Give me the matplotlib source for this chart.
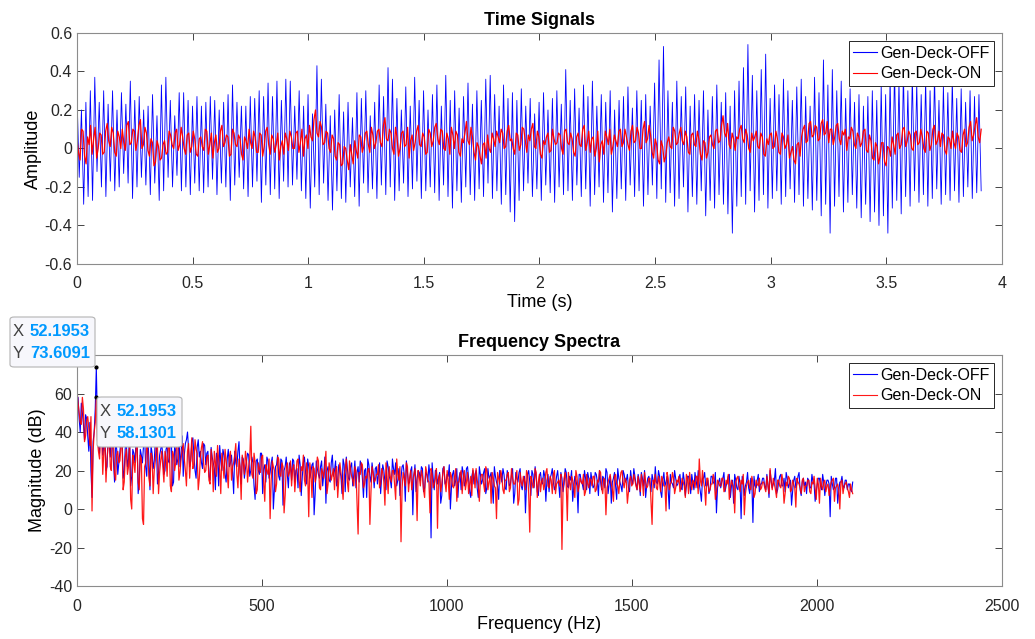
import numpy as np
import matplotlib
matplotlib.use('Agg')
import matplotlib.pyplot as plt
from matplotlib.patches import FancyBboxPatch
from matplotlib.ticker import FuncFormatter

plt.rcParams['font.family'] = ['Liberation Sans', 'DejaVu Sans']
plt.rcParams['axes.unicode_minus'] = False

# time signals
t_end = 3.91
# blue (Gen-Deck-OFF): one peak and one trough per cycle (~52 Hz)
off_peaks = [
    0.28, 0.20, 0.24, 0.30, 0.37, 0.24, 0.30, 0.23, 0.30, 0.20,
    0.29, 0.23, 0.35, 0.25, 0.27, 0.20, 0.22, 0.28, 0.17, 0.33,
    0.37, 0.25, 0.17, 0.29, 0.29, 0.25, 0.22, 0.27, 0.22, 0.24,
    0.27, 0.25, 0.20, 0.24, 0.28, 0.33, 0.24, 0.22, 0.22, 0.27,
    0.26, 0.30, 0.27, 0.34, 0.27, 0.35, 0.25, 0.36, 0.35, 0.22,
    0.30, 0.22, 0.28, 0.18, 0.43, 0.36, 0.23, 0.17, 0.20, 0.28,
    0.19, 0.24, 0.16, 0.29, 0.26, 0.30, 0.17, 0.24, 0.33, 0.27,
    0.42, 0.36, 0.26, 0.20, 0.32, 0.22, 0.37, 0.25, 0.30, 0.20,
    0.28, 0.33, 0.22, 0.38, 0.25, 0.30, 0.21, 0.27, 0.34, 0.23,
    0.30, 0.25, 0.36, 0.38, 0.28, 0.22, 0.33, 0.26, 0.29, 0.25,
    0.31, 0.22, 0.26, 0.18, 0.24, 0.29, 0.20, 0.26, 0.30, 0.23,
    0.41, 0.25, 0.31, 0.21, 0.33, 0.27, 0.35, 0.22, 0.28, 0.24,
    0.30, 0.20, 0.25, 0.27, 0.32, 0.21, 0.30, 0.25, 0.28, 0.22,
    0.34, 0.46, 0.53, 0.30, 0.24, 0.35, 0.27, 0.32, 0.22, 0.28,
    0.25, 0.30, 0.20, 0.27, 0.33, 0.24, 0.29, 0.22, 0.30, 0.35,
    0.42, 0.54, 0.38, 0.30, 0.41, 0.49, 0.26, 0.33, 0.28, 0.36,
    0.30, 0.25, 0.32, 0.36, 0.27, 0.22, 0.37, 0.29, 0.46, 0.33,
    0.41, 0.30, 0.35, 0.26, 0.31, 0.24, 0.28, 0.22, 0.27, 0.30,
    0.25, 0.33, 0.28, 0.37, 0.42, 0.35, 0.40, 0.30, 0.38, 0.34,
    0.28, 0.36, 0.30, 0.38, 0.25, 0.33, 0.29, 0.36, 0.26, 0.31,
    0.24, 0.30, 0.27, 0.28]
off_troughs = [
    -0.15, -0.29, -0.25, -0.27, -0.12, -0.20, -0.25, -0.17, -0.22, -0.20,
    -0.13, -0.18, -0.26, -0.20, -0.15, -0.19, -0.24, -0.18, -0.27, -0.22,
    -0.15, -0.20, -0.14, -0.22, -0.20, -0.24, -0.18, -0.22, -0.23, -0.20,
    -0.16, -0.24, -0.18, -0.20, -0.27, -0.19, -0.15, -0.21, -0.25, -0.20,
    -0.17, -0.28, -0.19, -0.24, -0.21, -0.26, -0.17, -0.20, -0.19, -0.16,
    -0.22, -0.26, -0.31, -0.20, -0.24, -0.18, -0.27, -0.32, -0.22, -0.26,
    -0.28, -0.20, -0.25, -0.30, -0.18, -0.23, -0.21, -0.26, -0.19, -0.24,
    -0.20, -0.27, -0.22, -0.18, -0.25, -0.21, -0.17, -0.26, -0.22, -0.20,
    -0.23, -0.27, -0.19, -0.25, -0.31, -0.22, -0.28, -0.20, -0.24, -0.27,
    -0.21, -0.25, -0.18, -0.26, -0.22, -0.29, -0.24, -0.33, -0.38, -0.27,
    -0.22, -0.18, -0.25, -0.21, -0.27, -0.19, -0.23, -0.28, -0.20, -0.24,
    -0.22, -0.27, -0.19, -0.25, -0.21, -0.30, -0.24, -0.20, -0.28, -0.23,
    -0.33, -0.26, -0.21, -0.27, -0.19, -0.25, -0.22, -0.30, -0.24, -0.19,
    -0.26, -0.21, -0.28, -0.23, -0.30, -0.26, -0.20, -0.33, -0.25, -0.29,
    -0.22, -0.35, -0.27, -0.31, -0.24, -0.29, -0.34, -0.44, -0.30, -0.25,
    -0.29, -0.22, -0.33, -0.27, -0.24, -0.31, -0.26, -0.22, -0.29, -0.25,
    -0.21, -0.28, -0.24, -0.30, -0.26, -0.32, -0.27, -0.35, -0.29, -0.44,
    -0.30, -0.25, -0.33, -0.28, -0.24, -0.31, -0.36, -0.29, -0.38, -0.33,
    -0.40, -0.35, -0.44, -0.31, -0.27, -0.34, -0.25, -0.30, -0.22, -0.28,
    -0.24, -0.30, -0.26, -0.21, -0.29, -0.24, -0.27, -0.22, -0.28, -0.25,
    -0.20, -0.26, -0.23, -0.22]
# red (Gen-Deck-ON), even and odd samples
on_even = [
    0.05, -0.06, 0.09, -0.08, 0.02, -0.03, 0.11, 0.00, 0.07, -0.02, 0.13, 0.01, 0.08, -0.04, 0.06, 0.10, -0.01, 0.14, 0.03, 0.09,
    0.04, 0.15, 0.02, 0.08, -0.04, 0.03, -0.07, 0.01, -0.05, 0.04, -0.02, 0.07, 0.00, 0.10, 0.02, 0.06, -0.03, 0.08, 0.01, 0.05,
    -0.04, 0.06, -0.01, 0.09, 0.02, -0.05, 0.07, 0.00, 0.12, 0.03, 0.06, -0.03, 0.08, 0.01, 0.05, -0.06, 0.04, 0.10, 0.00, 0.06,
    -0.02, 0.07, 0.01, 0.11, -0.03, 0.05, 0.02, -0.06, 0.04, 0.08, -0.01, 0.06, 0.00, 0.09, 0.03, -0.04, 0.07, 0.12, 0.04, 0.20,
    0.06, 0.11, 0.03, 0.08, -0.02, 0.05, -0.06, 0.02, -0.08, 0.00, -0.11, -0.03, 0.04, -0.05, 0.06, 0.01, 0.09, -0.02, 0.07, 0.03,
    0.10, 0.01, 0.16, 0.04, 0.08, -0.03, 0.06, 0.00, 0.09, 0.02, -0.05, 0.07, 0.03, 0.12, 0.01, 0.06, -0.02, 0.08, 0.04, 0.13,
    0.02, 0.09, -0.01, 0.05, 0.11, 0.00, 0.07, -0.04, 0.03, 0.14, 0.02, 0.06, -0.06, 0.01, -0.08, 0.03, 0.07, -0.02, 0.05, 0.09,
    0.03, 0.08, 0.01, 0.12, 0.05, -0.03, 0.07, 0.02, 0.10, -0.02, 0.04, 0.13, 0.00, 0.06, -0.05, 0.02, 0.08, -0.01, 0.05, 0.03,
    0.07, -0.03, 0.10, 0.02, 0.05, -0.04, 0.08, 0.01, 0.12, 0.03, -0.02, 0.06, 0.00, -0.07, 0.04, 0.09, 0.02, -0.03, 0.07, 0.01,
    0.10, 0.03, 0.06, -0.01, 0.12, 0.04, 0.08, 0.00, 0.14, 0.05, 0.07, -0.05, 0.02, -0.08, 0.01, -0.04, 0.06, 0.00, 0.09, 0.03,
    0.11, 0.02, 0.06, -0.03, 0.08, 0.01, 0.05, -0.06, 0.03, -0.02, 0.07, 0.00, 0.10, 0.04, 0.17, 0.06, 0.02, 0.08, -0.01, 0.05,
    0.12, 0.03, 0.07, -0.02, 0.04, 0.09, 0.00, 0.06, -0.04, 0.02, 0.08, 0.01, 0.05, -0.03, 0.06, 0.02, -0.05, 0.01, -0.08, 0.03,
    0.06, 0.12, 0.04, 0.14, 0.07, 0.11, 0.05, 0.15, 0.08, 0.03, 0.10, 0.06, 0.13, 0.02, 0.07, -0.01, 0.05, 0.09, 0.00, 0.06,
    0.03, 0.10, -0.02, 0.04, -0.06, 0.01, -0.04, 0.03, -0.09, 0.00, 0.06, -0.03, 0.08, 0.02, 0.11, 0.04, 0.07, -0.01, 0.09, 0.03,
    0.06, -0.02, 0.08, 0.02, 0.12, 0.04, 0.01, 0.07, -0.03, 0.05, 0.09, 0.00, 0.06, -0.02, 0.10, 0.03, 0.14, 0.07, 0.16, 0.03]
on_odd = [
    -0.02, 0.10, -0.04, 0.06, 0.12, 0.05, -0.05, 0.08, -0.03, 0.09, 0.04, 0.11, -0.02, 0.09, 0.00, 0.03, 0.12, 0.02, 0.10, -0.01,
    0.12, 0.00, 0.11, -0.01, 0.05, -0.09, 0.04, -0.06, 0.02, -0.03, 0.09, 0.02, 0.08, -0.01, 0.11, 0.00, 0.07, -0.02, 0.09, -0.03,
    0.05, 0.01, 0.10, -0.03, 0.08, 0.03, -0.02, 0.09, 0.01, 0.07, -0.04, 0.10, 0.02, 0.07, -0.03, 0.06, 0.00, 0.03, 0.09, -0.02,
    0.08, -0.04, 0.09, 0.02, 0.07, -0.02, 0.08, 0.01, -0.03, 0.05, 0.09, 0.00, 0.08, -0.02, 0.10, 0.05, 0.00, 0.06, 0.15, 0.08,
    0.14, 0.02, 0.09, 0.00, 0.07, -0.04, 0.03, -0.09, 0.01, -0.06, 0.02, -0.08, -0.01, 0.07, -0.02, 0.08, 0.02, 0.11, 0.00, 0.09,
    0.03, 0.12, 0.05, 0.10, 0.00, 0.11, -0.04, 0.08, 0.01, 0.11, 0.04, -0.01, 0.09, 0.02, 0.08, -0.03, 0.10, 0.01, 0.11, 0.05,
    0.10, 0.00, 0.08, -0.03, 0.07, 0.09, -0.02, 0.05, 0.08, 0.04, 0.11, -0.02, 0.03, -0.04, 0.02, -0.05, 0.00, 0.08, 0.01, 0.06,
    0.10, 0.00, 0.09, 0.04, 0.00, 0.08, -0.01, 0.11, 0.04, 0.07, 0.10, 0.01, 0.09, -0.03, 0.04, 0.06, -0.02, 0.10, 0.02, 0.08,
    0.00, 0.09, 0.03, 0.08, -0.02, 0.06, 0.02, 0.10, -0.01, 0.09, 0.05, -0.04, 0.09, 0.02, -0.03, 0.06, 0.10, 0.01, 0.04, 0.09,
    0.01, 0.10, 0.02, 0.09, 0.03, 0.11, 0.00, 0.10, 0.03, 0.12, -0.02, 0.05, -0.06, 0.04, -0.07, 0.03, 0.01, 0.11, 0.02, 0.08,
    0.04, 0.09, -0.02, 0.07, 0.02, 0.09, -0.03, 0.04, -0.05, 0.06, 0.02, 0.09, 0.03, 0.12, 0.08, 0.13, 0.00, 0.05, 0.06, 0.10,
    0.05, 0.10, 0.00, 0.08, 0.06, 0.01, 0.08, -0.03, 0.05, 0.07, 0.00, 0.09, -0.02, 0.08, 0.00, 0.07, -0.02, -0.06, 0.02, -0.04,
    0.10, 0.03, 0.13, 0.06, 0.12, 0.04, 0.13, 0.07, 0.14, 0.10, 0.02, 0.12, 0.05, 0.09, 0.10, 0.06, 0.11, 0.02, 0.08, 0.01,
    0.09, -0.01, 0.07, -0.05, 0.03, -0.08, 0.03, -0.07, 0.01, -0.04, 0.02, 0.07, 0.00, 0.10, 0.01, 0.09, 0.00, 0.08, 0.02, 0.10,
    0.00, 0.09, -0.01, 0.10, 0.02, 0.09, 0.08, -0.01, 0.06, 0.00, 0.03, 0.08, -0.01, 0.07, 0.01, 0.11, 0.04, 0.12, 0.06, 0.10]

# spectra (dB), even and odd bins; bin spacing puts even bin 9 on the 52.1953 Hz line
df = 52.1953 / 18
off_even = [
    52, 47, 55, 44, 49, 38, 45, 6, 40, 73.6091, 35, 42, 28, 38, 22, 33, 40, 25, 36, 18,
    30, 38, 20, 34, 26, 12, 31, 24, 36, 15, 28, 33, 22, 37, 10, 29, 25, 34, 19, 31,
    27, 20, 33, 24, 35, 14, 30, 26, 22, 38, 28, 36, 31, 25, 37, 20, 32, 27, 24, 34,
    23, 30, 15, 27, 21, 29, 12, 25, 31, 18, 26, 22, 28, 8, 24, 30, 19, 27, 16, 25,
    28, 20, 24, 5, 26, 18, 29, 21, 14, 25, 19, 27, 10, 23, 17, 26, 2, 22, 18, 24,
    15, 25, 20, 11, 23, 17, 27, 13, 22, 19, 24, 8, 21, 16, 25, 18, 3, 22, 14, 28,
    20, 12, 23, 17, 26, 9, 21, 15, 24, 18, 11, 22, 25, 16, 20, 6, 23, 14, 19, 21,
    13, 24, 17, 20, 10, 22, 15, 26, 18, 12, 21, 16, 23, 4, 19, 14, 22, 17, 9, 20,
    15, 21, 11, 18, 23, -15, 16, 20, 13, 19, 7, 22, 14, 17, 0, 18, 12, 21, 16, 10,
    19, 14, 22, 9, 17, 13, 20, 6, 18, 15, 21, 11, 16, 19, 3, 17, 12, 20, 14, 18,
    10, 17, 13, 21, 8, 16, 19, 12, 15, -2, 18, 14, 20, 11, 16, 7, 19, 13, 17, 15,
    9, 18, 14, 12, 20, 6, 16, 13, 19, 11, 15, 4, 17, 12, 18, 14, 10, 16, 19, 8,
    15, 12, 18, 7, 14, 17, 11, 19, 13, 3, 16, 12, 21, 14, 9, 18, 15, 11, 20, 13,
    17, 10, 15, 19, 12, 6, 16, 13, 18, 11, 14, 20, 9, 15, 12, 17, 0, 14, 11, 16,
    13, 18, 10, 15, 12, 17, 8, 14, 19, 11, 13, 4, 16, 12, 15, 10, 17, 13, -2, 14,
    11, 16, 9, 14, 18, 12, 3, 15, 10, 13, 17, 7, 14, 11, 16, -7, 12, 15, 9, 13,
    16, 10, 13, 20, 11, 15, 8, 14, 18, 12, 9, 16, 13, 2, 15, 11, 17, 10, 14, 12,
    8, 15, 11, 14, 4, 13, 16, 10, 14, 12, 15, -4, 13, 11, 16, 9, 14, 12, 15, 10,
    13, 9]
off_odd = [
    58, 40, 50, 36, 47, 30, 20, 35, 52, 45, 29, 44, 33, 20, 39, 27, 35, 14, 31, 24,
    37, 16, 32, 22, 38, 17, 29, 35, 8, 31, 24, 38, 17, 26, 33, 21, 36, 13, 28, 34,
    18, 31, 25, 36, 12, 33, 23, 39, 29, 17, 34, 40, 22, 35, 28, 16, 36, 30, 21, 33,
    29, 17, 32, 24, 10, 27, 33, 20, 28, 14, 31, 24, 19, 30, 22, 35, 13, 26, 21, 29,
    17, 27, 12, 25, 20, 29, 8, 23, 27, 16, 24, 0, 22, 28, 15, 25, 20, 27, 11, 23,
    26, 14, 21, 28, 7, 24, 19, 26, 16, 23, -3, 25, 18, 22, 12, 27, 20, 15, 24, 17,
    25, 15, 20, 8, 23, 27, 16, 22, 12, 25, 19, 14, 23, 6, 21, 26, 17, 24, 11, 22,
    18, 8, 23, 14, 25, 17, 11, 21, 24, 15, 7, 22, 18, 25, 13, 20, -3, 23, 16, 19,
    22, 9, 19, 14, 17, 24, 10, 20, 16, 3, 21, 13, 18, 23, 11, 20, 15, 6, 19, 22,
    12, 21, 16, 6, 20, 18, 11, 22, 13, 19, 8, 21, 17, 12, 22, 14, 5, 18, 21, 11,
    20, 12, 18, 3, 19, 14, 21, 10, 17, 13, 20, 7, 18, 22, 9, 17, 14, 20, 4, 18,
    16, 21, 10, 17, 13, 19, 9, 21, 12, 17, 20, 11, 15, -2, 18, 13, 20, 10, 16, 19,
    11, 19, 14, 20, 10, 16, 21, 8, 17, 14, 19, 5, 16, 12, 20, 14, 18, 9, 15, 21,
    13, 18, 7, 16, 20, 12, 17, 9, 15, 22, 13, 17, 6, 19, 14, 10, 18, 13, 20, 12,
    16, 11, 19, 7, 17, 13, 18, 10, 15, 20, 9, 16, 19, 12, 8, 17, 14, 19, 11, 16,
    14, 19, 12, 17, 6, 15, 18, 11, 17, -5, 15, 12, 19, 8, 14, 17, 11, 18, 13, 16,
    12, 18, 6, 15, 13, 21, 10, 17, 12, 16, 19, 11, 15, 9, 17, 13, 19, 7, 16, 14,
    16, 11, 18, 13, 9, 16, 12, 18, 7, 15, 13, 17, 10, 16, 3, 14, 17, 11, 15, 13,
    10, 14]
on_even_db = [
    62, 50, 44, 52, 38, 48, 33, -1, 40, 58.1301, 30, 42, 18, 36, 26, 40, 20, 34, 15, 30,
    25, 35, 14, 31, 22, 5, 28, 19, 33, 10, 26, -8, 24, 30, 12, 27, 20, 36, 8, 25,
    22, 30, 17, 33, 9, 28, 24, 35, 19, 31, 26, 12, 34, 27, 21, 36, 29, 16, 32, 24,
    20, 28, 13, 25, 30, 17, 26, 8, 23, 31, 19, 27, 15, 24, 34, 11, 22, 28, 18, 25,
    22, 43, 16, 24, 10, 21, 27, 14, 23, 18, -5, 25, 20, 13, 26, 17, 22, 7, 24, 19,
    12, 23, 17, 26, 9, 20, 15, 24, -4, 19, 22, 14, 27, 11, 21, 16, 30, 13, 20, 18,
    10, 22, 15, 19, 5, 21, 14, 25, 17, 12, 20, -13, 18, 23, 13, 16, 21, 9, 19, 15,
    18, 11, 21, 14, 24, 8, 17, 20, 13, 26, 15, -17, 19, 12, 22, 16, 10, 18, 14, 20,
    12, 17, 6, 19, 14, 21, 11, 16, -10, 18, 13, 22, 9, 15, 19, 12, 17, 4, 14, 20,
    16, 10, 19, 13, 7, 17, 21, 12, 15, 18, 9, 20, 14, 3, 16, 11, 19, 13, 17, 8,
    15, 19, 11, 16, 13, 20, 5, 14, 17, 10, 18, -12, 15, 12, 19, 14, 9, 16, 13, 21,
    11, 15, 18, 8, 14, 12, -21, 16, 13, 19, 10, 15, 6, 17, 12, 14, 18, 9, 13, 16,
    12, 17, 10, 14, 19, 8, 15, 11, 16, 13, 4, 18, 12, 15, 20, 11, 14, 9, 17, 13,
    15, 10, 13, 18, 7, 14, 12, 16, -8, 13, 11, 17, 9, 15, 12, 19, 10, 14, 16, 11,
    14, 9, 16, 12, 18, 8, 13, 15, 11, 17, 26, 12, 14, 2, 16, 10, 13, 15, 9, 14,
    12, 16, 10, 13, 5, 15, 11, 14, 17, 9, 13, -3, 12, 15, 10, 14, 8, 13, 16, 11,
    14, 9, 12, 21, 10, 13, 6, 15, 11, 14, 8, 12, 16, 10, 13, 1, 14, 11, 15, 9,
    12, 15, 8, 13, 11, 16, 3, 12, 14, 9, 13, 11, 15, 4, 12, 10, 14, 8, 13, 11,
    6, 10]
on_odd_db = [
    55, 45, 58, 35, 46, 42, 48, 30, 45, 36, 26, 38, 30, 14, 33, 22, 48, 18, 28, 24,
    33, 10, 27, 18, 35, 0, 24, 31, 14, 28, -5, 22, 33, 16, 29, 8, 25, 32, 19, 30,
    14, 27, 33, 12, 30, 20, 37, 15, 26, 34, 20, 30, 16, 37, 23, 31, 10, 27, 35, 19,
    27, 15, 31, 9, 24, 33, 20, 29, 16, 25, 11, 30, 22, 28, 18, 26, 5, 24, 30, 14,
    26, 18, 29, 8, 24, 19, 28, 4, 20, 26, 15, 22, 9, 27, 18, 24, -2, 21, 17, 25,
    21, 9, 25, 15, 22, 28, 12, 19, 24, 6, 21, 17, 25, 10, 19, 23, 8, 24, 15, 21,
    20, 6, 24, 13, 18, 26, 9, 20, 15, 22, 4, 19, 24, 11, 17, 20, -8, 22, 14, 18,
    23, 13, 19, 2, 17, 22, 14, 20, 5, 18, 22, 11, 16, 24, 9, 20, 15, 21, -6, 17,
    20, 10, 22, 15, -2, 18, 13, 21, 16, 9, 19, 14, 20, 5, 17, 11, 21, 14, 18, 8,
    20, 14, 8, 17, 21, 11, 15, 4, 18, 13, 22, 10, 17, 19, 12, -5, 16, 20, 10, 15,
    18, 9, 21, 13, 16, 2, 19, 12, 15, 20, 8, 17, 11, 21, 6, 18, 14, 10, 19, 12,
    17, 8, 20, 13, 15, 18, 10, 19, -6, 14, 17, 12, 20, 9, 16, 13, 7, 18, 11, 15,
    17, 9, 15, 20, 11, 16, -3, 14, 18, 10, 17, 13, 8, 19, 14, 16, 3, 15, 12, 18,
    12, 17, 9, 14, 19, 11, 16, 4, 15, 18, 10, 14, 17, 12, -1, 16, 13, 19, 8, 15,
    17, 11, 14, 6, 16, 19, 10, 14, 17, 8, 15, 20, 11, 16, 9, 13, 18, 5, 15, 12,
    16, 9, 15, 18, 11, 13, -2, 16, 12, 15, 18, 8, 14, 11, 17, 6, 15, 12, 10, 14,
    11, 17, 8, 14, 16, 10, 15, 12, 18, 3, 14, 17, 9, 15, 11, 16, 13, 8, 16, 12,
    15, 9, 14, 17, 5, 13, 16, 10, 15, 12, 7, 14, 16, 11, 13, 0, 15, 12, 14, 9,
    13, 8]

peak_f = 52.1953
peak_off = 73.6091
peak_on = 58.1301


def interleave(a, b):
    k = min(len(a), len(b))
    return np.column_stack([a[:k], b[:k]]).ravel()


# build series
off_signal = interleave(off_peaks, off_troughs)
on_signal = interleave(on_even, on_odd)
t_off = np.linspace(0, t_end, len(off_signal))
t_on = np.linspace(0, t_end, len(on_signal))
off_db = interleave(off_even, off_odd)
on_db = interleave(on_even_db, on_odd_db)
f_off = np.arange(len(off_db)) * df
f_on = np.arange(len(on_db)) * df

axc = (0.15, 0.15, 0.15)
fig = plt.figure(figsize=(10.35, 6.39), dpi=100)
ax1 = fig.add_axes([0.0744, 0.5869, 0.8937, 0.3615])
ax2 = fig.add_axes([0.0744, 0.0829, 0.8937, 0.3615])

fmt = FuncFormatter(lambda v, p: '%g' % round(v, 6))
# the 80 label sits under the data tip in the original
fmt2 = FuncFormatter(lambda v, p: '' if v > 79 else '%g' % round(v, 6))

ax1.plot(t_off, off_signal, color='b', lw=0.6, label='Gen-Deck-OFF')
ax1.plot(t_on, on_signal, color='r', lw=0.9, label='Gen-Deck-ON')
ax1.set_xlim(0, 4)
ax1.set_ylim(-0.6, 0.6)
ax1.set_xticks(np.arange(0, 4.01, 0.5))
ax1.set_yticks(np.arange(-0.6, 0.61, 0.2))
ax1.set_title('Time Signals', fontsize=13, fontweight='bold', pad=6)
ax1.set_xlabel('Time (s)', fontsize=13, labelpad=2)
ax1.set_ylabel('Amplitude', fontsize=13, labelpad=2)

ax2.plot(f_off, off_db, color='b', lw=0.8, label='Gen-Deck-OFF')
ax2.plot(f_on, on_db, color='r', lw=0.9, alpha=0.9, label='Gen-Deck-ON')
ax2.plot([peak_f, peak_f], [peak_off, peak_on], 'k.', ms=4)
ax2.set_xlim(0, 2500)
ax2.set_ylim(-40, 80)
ax2.set_xticks(np.arange(0, 2501, 500))
ax2.set_yticks(np.arange(-40, 81, 20))
ax2.set_title('Frequency Spectra', fontsize=13, fontweight='bold', pad=6)
ax2.set_xlabel('Frequency (Hz)', fontsize=13, labelpad=2)
ax2.set_ylabel('Magnitude (dB)', fontsize=13, labelpad=2)

for ax, yf in ((ax1, fmt), (ax2, fmt2)):
    ax.xaxis.set_major_formatter(fmt)
    ax.yaxis.set_major_formatter(yf)
    ax.tick_params(direction='in', top=True, right=True, length=5, width=0.6,
                   labelsize=11.5, colors=axc)
    ax.tick_params(axis='x', pad=9)
    for s in ax.spines.values():
        s.set_color((0.55, 0.55, 0.55))
        s.set_linewidth(0.8)
    leg = ax.legend(loc='upper right', fontsize=11.5, frameon=True, fancybox=False,
                    edgecolor=axc, framealpha=1, handlelength=1.45, handletextpad=0.2,
                    borderpad=0.3, labelspacing=0.35, borderaxespad=0.5)
    leg.get_frame().set_linewidth(0.7)
    for line in leg.get_lines():
        line.set_linewidth(0.8)

# data tips
tip_col = (0.0, 0.6, 1.0)
def datatip(x0, y0, xval, yval):
    # x0, y0 = top-left of the box in pixels
    W, H = 1035.0, 639.0
    box = FancyBboxPatch((x0 / W, 1 - (y0 + 50) / H), 85 / W, 50 / H,
                         boxstyle='round,pad=0,rounding_size=0.004',
                         transform=fig.transFigure, facecolor=(0.97, 0.97, 0.99),
                         edgecolor=(0.7, 0.7, 0.7), lw=0.8, zorder=10)
    fig.patches.append(box)
    for i, (lab, val) in enumerate([('X', xval), ('Y', yval)]):
        yy = 1 - (y0 + 14 + i * 22) / H
        fig.text((x0 + 3) / W, yy, lab, fontsize=12, color=(0.25, 0.25, 0.25),
                 va='center', ha='left', zorder=11)
        fig.text((x0 + 20) / W, yy, val, fontsize=12, color=tip_col,
                 fontweight='bold', va='center', ha='left', zorder=11)

datatip(10, 317, '%.4f' % peak_f, '%.4f' % peak_off)
datatip(97, 397, '%.4f' % peak_f, '%.4f' % peak_on)

fig.savefig('out.png', dpi=100)
